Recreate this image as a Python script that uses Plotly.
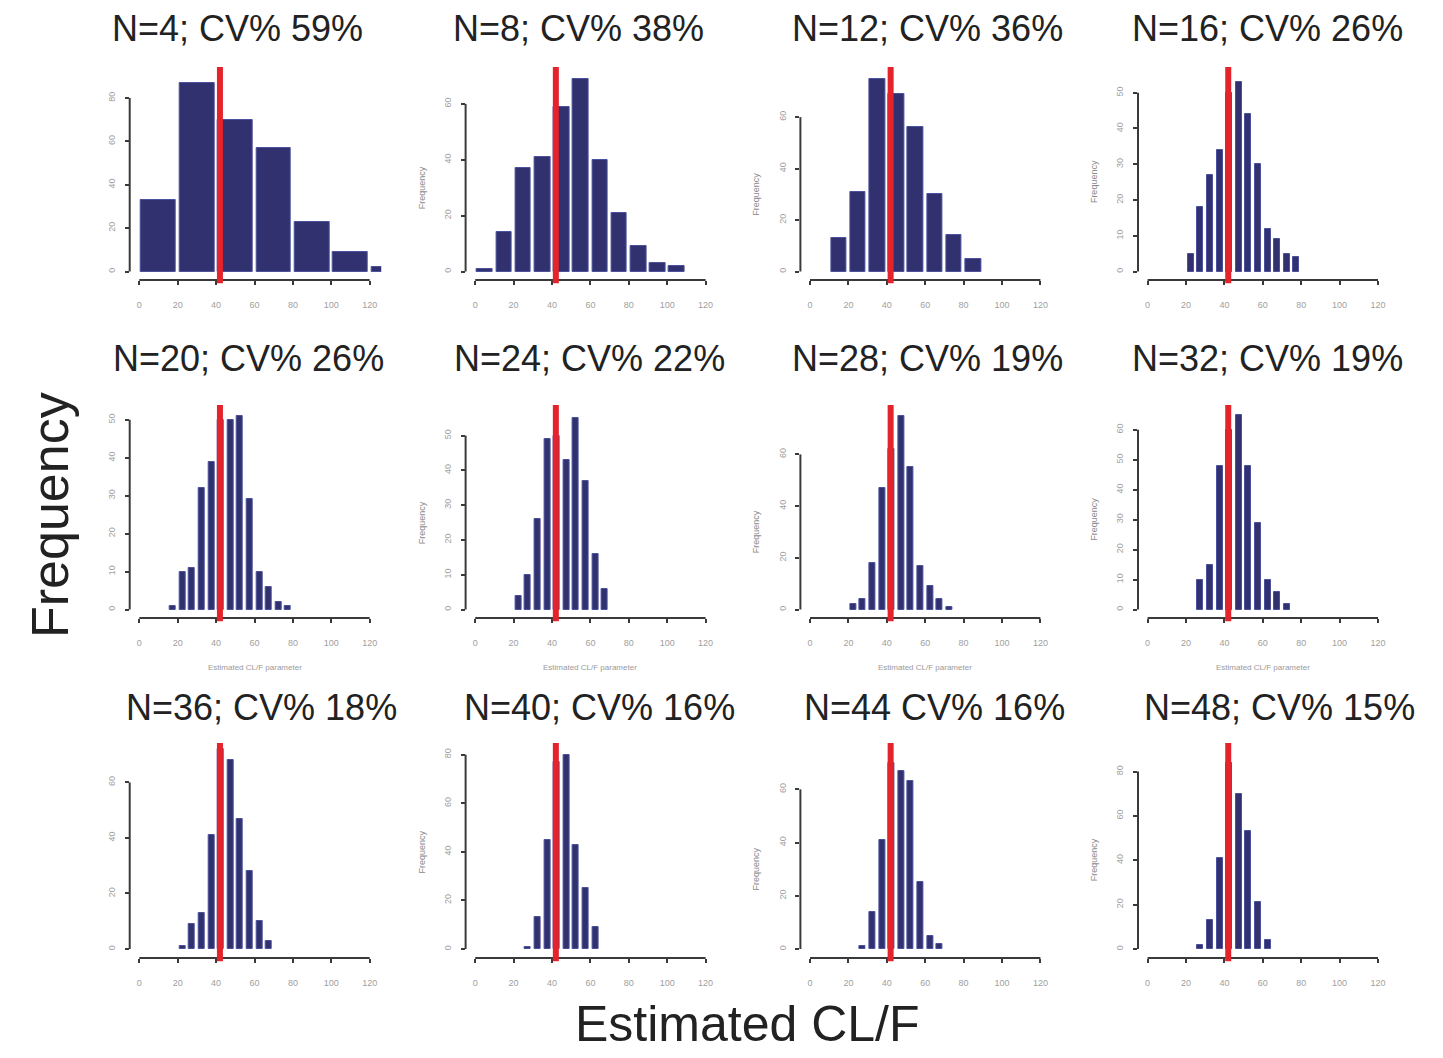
import plotly.graph_objects as go

# ---- data: bootstrap histograms of the estimated CL/F for increasing sample size ----
panel_titles = [
    "N=4; CV% 59%", "N=8; CV% 38%", "N=12; CV% 36%", "N=16; CV% 26%",
    "N=20; CV% 26%", "N=24; CV% 22%", "N=28; CV% 19%", "N=32; CV% 19%",
    "N=36; CV% 18%", "N=40; CV% 16%", "N=44 CV% 16%", "N=48; CV% 15%",
]
bin_width = [20, 10, 10, 5, 5, 5, 5, 5, 5, 5, 5, 5]
bin_start = [0, 0, 10, 20, 15, 20, 20, 25, 20, 25, 25, 25]

counts_n4 = [33, 87, 70, 57, 23, 9, 2]
counts_n8 = [1, 14, 37, 41, 59, 69, 40, 21, 9, 3, 2]
counts_n12 = [13, 31, 75, 69, 56, 30, 14, 5]
counts_n16 = [5, 18, 27, 34, 50, 53, 44, 30, 12, 9, 5, 4]
counts_n20 = [1, 10, 11, 32, 39, 50, 50, 51, 29, 10, 6, 2, 1]
counts_n24 = [4, 10, 26, 49, 50, 43, 55, 37, 16, 6]
counts_n28 = [2, 4, 18, 47, 62, 75, 55, 17, 9, 4, 1]
counts_n32 = [10, 15, 48, 60, 65, 48, 29, 10, 6, 2]
counts_n36 = [1, 9, 13, 41, 72, 68, 47, 28, 10, 3]
counts_n40 = [1, 13, 45, 77, 80, 43, 25, 9]
counts_n44 = [1, 14, 41, 70, 67, 63, 25, 5, 2]
counts_n48 = [2, 13, 41, 84, 70, 53, 21, 4]

panel_counts = [
    counts_n4, counts_n8, counts_n12, counts_n16,
    counts_n20, counts_n24, counts_n28, counts_n32,
    counts_n36, counts_n40, counts_n44, counts_n48,
]

true_clf = 42                              # reference CL/F value (red line)
x_tick_values = [0, 20, 40, 60, 80, 100, 120]
y_tick_top = [80, 60, 60, 50, 50, 50, 60, 60, 60, 80, 60, 80]
y_tick_step = [20, 20, 20, 10, 10, 10, 20, 10, 20, 20, 20, 20]

# ---- layout geometry (pixels) ----
W, H = 1443, 1058
col_zero_px = [139.3, 475.2, 810.0, 1147.6]    # pixel column of x = 0
px_per_unit = 1.92
x_lo, x_hi = -5, 126
row_top_px = [67, 405, 743]
row_bottom_px = [280, 618, 958]
row_zero_px = [271.5, 609.5, 949]
y_range_top = [94.3, 73.2, 79.5, 57.2, 53.9, 58.8, 79.1, 68.3, 74.2, 84.8, 77.4, 92.9]
title_x_px = [237, 578, 927, 1267, 248, 589, 927, 1267, 261, 599, 934, 1279]
title_y_px = [28, 358, 707]

bar_color = "#30316e"
bar_edge = "#4b519c"
axis_color = "#3a3a3a"
tick_font = dict(family="Liberation Sans, Arial", size=9, color="#a0a0a0")
title_font = dict(family="Liberation Sans, Arial", size=36, color="#222222")

fig = go.Figure()
shapes, annotations = [], []
layout_axes = {}

for i, counts in enumerate(panel_counts):
    r, c = divmod(i, 4)
    suffix = "" if i == 0 else str(i + 1)
    xn, yn = "x" + suffix, "y" + suffix

    bw = bin_width[i]
    centers = [bin_start[i] + k * bw + bw / 2 for k in range(len(counts))]
    fig.add_trace(go.Bar(
        x=centers, y=counts, width=[bw - 1.8] * len(counts),
        marker=dict(color=bar_color, line=dict(color=bar_edge, width=1)),
        xaxis=xn, yaxis=yn, hoverinfo="x+y",
    ))

    # domains
    x0px = col_zero_px[c]
    dom_x = [(x0px + x_lo * px_per_unit) / W, (x0px + x_hi * px_per_unit) / W]
    dom_y = [1 - row_bottom_px[r] / H, 1 - row_top_px[r] / H]
    pxu = (row_zero_px[r] - row_top_px[r]) / y_range_top[i]
    y_lo = -(row_bottom_px[r] - row_zero_px[r]) / pxu

    layout_axes["xaxis" + suffix] = dict(
        domain=dom_x, range=[x_lo, x_hi], anchor=yn,
        showgrid=False, zeroline=False, showline=False,
        tickmode="array", tickvals=x_tick_values,
        ticks="outside", ticklen=4, tickwidth=2, tickcolor=axis_color,
        tickfont=tick_font, ticklabelstandoff=12, fixedrange=True,
    )
    yticks = list(range(0, y_tick_top[i] + 1, y_tick_step[i]))
    layout_axes["yaxis" + suffix] = dict(
        domain=dom_y, range=[y_lo, y_range_top[i]], anchor=xn,
        showgrid=False, zeroline=False, showline=False,
        tickmode="array", tickvals=yticks, tickangle=-90,
        ticks="outside", ticklen=4, tickwidth=2, tickcolor=axis_color,
        tickfont=tick_font, ticklabelstandoff=6, fixedrange=True,
    )

    # detached axis lines
    shapes.append(dict(type="line", xref=xn, yref=yn + " domain",
                       x0=0, x1=120, y0=0, y1=0,
                       line=dict(color=axis_color, width=2)))
    shapes.append(dict(type="line", xref=xn + " domain", yref=yn,
                       x0=0, x1=0, y0=0, y1=y_tick_top[i],
                       line=dict(color=axis_color, width=2)))
    # reference value
    shapes.append(dict(type="line", xref=xn, yref=yn + " domain",
                       x0=true_clf, x1=true_clf, y0=-0.015, y1=1,
                       line=dict(color="#e4232b", width=6)))

    # panel title
    annotations.append(dict(
        text=panel_titles[i], x=title_x_px[i] / W, y=1 - title_y_px[r] / H,
        xref="paper", yref="paper", xanchor="center", yanchor="middle",
        showarrow=False, font=title_font,
    ))

    # small per-panel axis titles
    if c > 0:
        ymid_px = row_zero_px[r] - (y_tick_top[i] / 2) * pxu
        annotations.append(dict(
            text="Frequency", x=(x0px + x_lo * px_per_unit - 44) / W,
            y=1 - ymid_px / H, xref="paper", yref="paper",
            xanchor="center", yanchor="middle", textangle=-90, showarrow=False,
            font=dict(family="Liberation Sans, Arial", size=9, color="#8a8a8a"),
        ))
    if r == 1:
        annotations.append(dict(
            text="Estimated CL/F parameter", x=(x0px + 60 * px_per_unit) / W,
            y=1 - 667 / H, xref="paper", yref="paper",
            xanchor="center", yanchor="middle", showarrow=False,
            font=dict(family="Liberation Sans, Arial", size=8, color="#9a9a9a"),
        ))

# overall axis titles
annotations.append(dict(
    text="Frequency", x=50 / W, y=1 - 515 / H, xref="paper", yref="paper",
    xanchor="center", yanchor="middle", textangle=-90, showarrow=False,
    font=dict(family="Liberation Sans, Arial", size=52, color="#222222"),
))
annotations.append(dict(
    text="Estimated CL/F", x=747 / W, y=1 - 1024 / H, xref="paper", yref="paper",
    xanchor="center", yanchor="middle", showarrow=False,
    font=dict(family="Liberation Sans, Arial", size=50, color="#222222"),
))

fig.update_layout(
    width=W, height=H, margin=dict(l=0, r=0, t=0, b=0),
    paper_bgcolor="white", plot_bgcolor="white",
    showlegend=False, bargap=0,
    shapes=shapes, annotations=annotations,
    **layout_axes,
)

fig.write_html("out.html")
